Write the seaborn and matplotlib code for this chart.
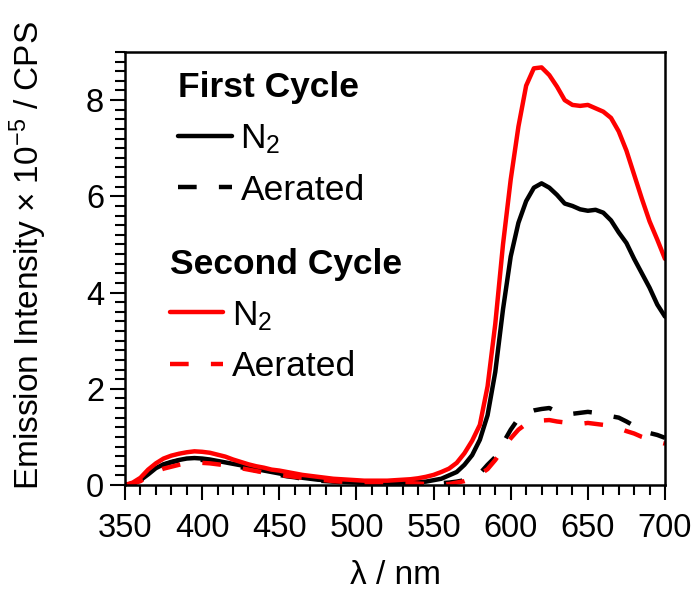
import numpy as np
import pandas as pd
import matplotlib
matplotlib.use("Agg")
import matplotlib.pyplot as plt
import seaborn as sns
from matplotlib.lines import Line2D
from matplotlib.ticker import MultipleLocator

# ---------------- data ----------------
wavelength = list(range(350, 701, 5))

first_n2 = [0.00, 0.03, 0.10, 0.22, 0.35, 0.43, 0.48, 0.52, 0.55, 0.56,
            0.55, 0.53, 0.50, 0.47, 0.44, 0.41, 0.37, 0.33, 0.30, 0.27,
            0.24, 0.21, 0.18, 0.15, 0.13, 0.11, 0.10, 0.08, 0.07, 0.06,
            0.05, 0.04, 0.04, 0.04, 0.04, 0.04, 0.05, 0.05, 0.06, 0.07,
            0.10, 0.13, 0.20, 0.27, 0.42, 0.62, 0.94, 1.45, 2.35, 3.65,
            4.75, 5.45, 5.90, 6.18, 6.27, 6.18, 6.03, 5.85, 5.80, 5.73,
            5.70, 5.72, 5.66, 5.50, 5.25, 5.03, 4.70, 4.40, 4.10, 3.75,
            3.50]

first_air = [0.00, 0.03, 0.10, 0.21, 0.33, 0.42, 0.47, 0.51, 0.53, 0.53,
             0.52, 0.50, 0.47, 0.44, 0.41, 0.37, 0.34, 0.30, 0.27, 0.24,
             0.21, 0.18, 0.16, 0.13, 0.11, 0.09, 0.08, 0.07, 0.06, 0.05,
             0.04, 0.03, 0.03, 0.03, 0.02, 0.02, 0.02, 0.02, 0.02, 0.03,
             0.03, 0.04, 0.05, 0.07, 0.10, 0.15, 0.24, 0.42, 0.58, 0.87,
             1.15, 1.38, 1.50, 1.55, 1.58, 1.60, 1.52, 1.50, 1.48, 1.50,
             1.52, 1.50, 1.47, 1.43, 1.40, 1.32, 1.23, 1.13, 1.08, 1.04,
             0.98]

second_n2 = [0.00, 0.05, 0.15, 0.32, 0.45, 0.55, 0.61, 0.65, 0.68, 0.70,
             0.69, 0.67, 0.63, 0.59, 0.53, 0.48, 0.43, 0.39, 0.36, 0.32,
             0.30, 0.27, 0.24, 0.21, 0.19, 0.17, 0.15, 0.13, 0.12, 0.11,
             0.10, 0.09, 0.09, 0.09, 0.09, 0.10, 0.11, 0.12, 0.14, 0.17,
             0.21, 0.27, 0.34, 0.46, 0.66, 0.92, 1.25, 2.05, 3.35, 5.00,
             6.35, 7.45, 8.30, 8.66, 8.68, 8.52, 8.28, 8.00, 7.90, 7.88,
             7.90, 7.83, 7.76, 7.63, 7.35, 6.95, 6.45, 5.95, 5.48, 5.10,
             4.70]

second_air = [0.00, 0.03, 0.08, 0.18, 0.28, 0.34, 0.38, 0.42, 0.45, 0.46,
              0.46, 0.45, 0.43, 0.41, 0.38, 0.35, 0.32, 0.29, 0.26, 0.24,
              0.21, 0.19, 0.17, 0.15, 0.13, 0.11, 0.10, 0.08, 0.07, 0.06,
              0.05, 0.05, 0.05, 0.05, 0.05, 0.05, 0.04, 0.04, 0.03, 0.02,
              0.01, 0.01, 0.02, 0.05, 0.08, 0.14, 0.22, 0.33, 0.52, 0.75,
              0.97, 1.15, 1.27, 1.32, 1.34, 1.35, 1.32, 1.30, 1.28, 1.27,
              1.29, 1.27, 1.25, 1.21, 1.18, 1.12, 1.07, 1.00, 0.95, 0.90,
              0.86]

x_ticks = [350, 400, 450, 500, 550, 600, 650, 700]
y_ticks = [0, 2, 4, 6, 8]

# ---------------- style ----------------
sns.set_theme(style="ticks")
plt.rcParams["font.family"] = ["Liberation Sans", "DejaVu Sans"]
plt.rcParams["mathtext.fontset"] = "custom"
plt.rcParams["mathtext.rm"] = "Liberation Sans"
plt.rcParams["mathtext.it"] = "Liberation Sans:italic"
plt.rcParams["mathtext.bf"] = "Liberation Sans:bold"
for k in ["text.color", "axes.labelcolor", "xtick.color", "ytick.color", "axes.edgecolor"]:
    plt.rcParams[k] = "black"

BLACK = "#000000"
RED = "#ff0000"
LW = 3.2
DASH = (0, (4.2, 5.0))

fig = plt.figure(figsize=(6.98, 5.90), dpi=100)
ax = fig.add_axes([125 / 698, 1 - 485 / 590, 540 / 698, 433 / 590])

sns.lineplot(x=wavelength, y=first_n2, ax=ax, color=BLACK, lw=LW, linestyle="-")
sns.lineplot(x=wavelength, y=first_air, ax=ax, color=BLACK, lw=LW, linestyle=DASH)
sns.lineplot(x=wavelength, y=second_n2, ax=ax, color=RED, lw=LW, linestyle="-")
sns.lineplot(x=wavelength, y=second_air, ax=ax, color=RED, lw=LW, linestyle=DASH)

ax.set_xlim(350, 700)
ax.set_ylim(0, 9)
ax.set_xticks(x_ticks)
ax.set_yticks(y_ticks)
ax.xaxis.set_minor_locator(MultipleLocator(10))
ax.yaxis.set_minor_locator(MultipleLocator(0.2))
ax.tick_params(axis="both", which="major", direction="out", length=11, width=1.5,
               labelsize=23.5, colors="black")
ax.tick_params(axis="x", which="major", pad=9)
ax.tick_params(axis="y", which="major", pad=4)
ax.tick_params(axis="both", which="minor", direction="out", length=7, width=1.5)
ax.tick_params(top=False, right=False, which="both")
for sp in ax.spines.values():
    sp.set_visible(True)
    sp.set_linewidth(1.8)
    sp.set_color("black")

ax.set_xlabel("λ / nm", fontsize=24, labelpad=12)
ax.set_ylabel("Emission Intensity × 10$^{-5}$ / CPS", fontsize=24)
ax.yaxis.set_label_coords(-0.14, 0.53)

# ---------------- legends ----------------
h1 = [Line2D([], [], color=BLACK, lw=LW, linestyle="-"),
      Line2D([], [], color=BLACK, lw=LW, linestyle=DASH)]
h2 = [Line2D([], [], color=RED, lw=LW, linestyle="-"),
      Line2D([], [], color=RED, lw=LW, linestyle=DASH)]
labels = ["N$_2$", "Aerated"]

common = dict(loc="upper left", frameon=False, fontsize=25.5, handlelength=1.5,
              handletextpad=0.25, labelspacing=0.5, borderpad=0, borderaxespad=0,
              alignment="left",
              title_fontproperties={"weight": "bold", "size": 25.5})
leg1 = ax.legend(h1, labels, title="First Cycle", bbox_to_anchor=(0.099, 0.955), **common)
ax.add_artist(leg1)
leg2 = ax.legend(h2, labels, title="Second Cycle", bbox_to_anchor=(0.083, 0.547), **common)

fig.savefig("out.png", dpi=100)
